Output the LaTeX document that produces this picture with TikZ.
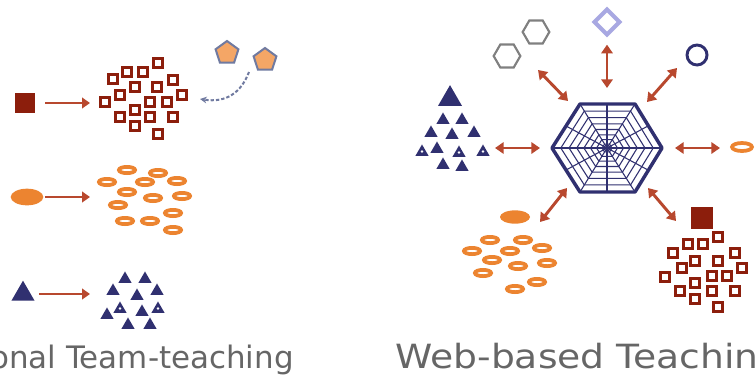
\documentclass[tikz,border=0pt]{standalone}
\usepackage{fontspec}
\newfontfamily\capfont{DejaVu Sans}
\usepackage{xcolor}
\usepackage{tikz}
\usetikzlibrary{shapes.geometric}
\usetikzlibrary{arrows.meta}

\definecolor{navy}{RGB}{48,48,112}
\definecolor{brick}{RGB}{140,30,12}
\definecolor{tang}{RGB}{236,132,48}
\definecolor{rust}{RGB}{184,72,46}
\definecolor{slate}{RGB}{128,128,128}
\definecolor{lilac}{RGB}{168,168,226}
\definecolor{peach}{RGB}{244,166,102}
\definecolor{steel}{RGB}{112,122,160}
\definecolor{capgray}{RGB}{102,102,102}

\tikzset{
  hsq/.style={rectangle, draw=brick, line width=2.4pt, minimum width=6.8pt, minimum height=6.2pt, inner sep=0pt},
  fsq/.style={rectangle, fill=brick, inner sep=0pt},
  ring/.style={ellipse, draw=tang, line width=2.8pt, minimum width=12.2pt, minimum height=4.7pt, inner sep=0pt},
  blob/.style={ellipse, fill=tang, inner sep=0pt},
  tri/.style={regular polygon, regular polygon sides=3, fill=navy, minimum size=11.3pt, inner sep=0pt},
  tridot/.style={tri, path picture={\fill[white] (path picture bounding box.center) ++(0,-1pt) circle (1pt);}},
  hexa/.style={regular polygon, regular polygon sides=6, draw=slate, line width=1.6pt, minimum size=20pt, inner sep=0pt},
  penta/.style={regular polygon, regular polygon sides=5, draw=steel, fill=peach, line width=1.5pt, minimum size=18pt, inner sep=0pt},
  arr/.style={draw=rust, line width=1.8pt, -{Triangle[length=6pt,width=8pt]}},
  darr/.style={draw=rust, line width=2.2pt, {Triangle[length=6.5pt,width=8.5pt]}-{Triangle[length=6.5pt,width=8.5pt]}},
  webline/.style={draw=navy, line width=0.8pt},
  caption/.style={text=capgray, inner sep=0pt},
}

\begin{document}
\begin{tikzpicture}[x=0.75pt, y=-0.75pt]
	\fill[white] (0,0) rectangle (755,379);
	\useasboundingbox (0,0) rectangle (755,379);

	% Left: one to many
	\node[fsq, minimum size=15pt] (redsq) at (25,103) {};
	\node[blob, minimum width=24.5pt, minimum height=12.5pt] (blobl) at (27,197) {};
	\node[tri, minimum size=20pt] (tril) at (23,294) {};
	\coordinate (ta) at (90,103);
	\coordinate (tb) at (90,197);
	\coordinate (tc) at (90,294);

	\foreach \p [count=\i] in {(158,63),(127,72),(143,72),(113,79),(173,80),(135,87),(157,87),(120,95),(182,95),(105,102),(150,102),(167,102),(135,110),(120,117),(150,117),(173,117),(135,126),(158,134)}
		\node[hsq] (sqa\i) at \p {};
	\foreach \p [count=\i] in {(127,170),(158,173),(107,182),(145,182),(177,181),(127,192),(153,198),(182,196),(118,205),(173,213),(125,221),(150,221),(173,230)}
		\node[ring] (rga\i) at \p {};
	\foreach \p [count=\i] in {(125,279),(145,279),(113,291),(137,296),(157,291),(142,312),(107,315),(128,325),(150,325)}
		\node[tri] (tra\i) at \p {};
	\node[tridot] (tra10) at (120,309) {};
	\node[tridot] (tra11) at (158,309) {};

	\node[penta] (pent1) at (227,53) {};
	\node[penta] (pent2) at (265,60) {};
	\coordinate (cs) at (249,72);
	\coordinate (ce) at (200,99);

	% Right: the web
	\coordinate (web) at (607,148);
	\draw[navy, line width=2.6pt, line join=round] (web) ++(55,0) -- ++(-27,44) -- ++(-55,0) -- ++(-28,-44) -- ++(28,-44) -- ++(55,0) -- cycle;
	\foreach \s in {0.84,0.69,0.55,0.42,0.3,0.19,0.09}
		\draw[webline, shift={(607,148)}, scale=\s] (55,0) -- (28,44) -- (-27,44) -- (-55,0) -- (-27,-44) -- (28,-44) -- cycle;
	\foreach \q in {(55,0),(28,44),(-27,44),(-55,0),(-27,-44),(28,-44),(41,22),(0,44),(-41,22),(-41,-22),(0,-44),(41,-22)}
		\draw[webline, shift={(607,148)}] (0,0) -- \q;

	\node[hexa] (hexa1) at (507,56) {};
	\node[hexa] (hexa2) at (536,32) {};
	\node[diamond, draw=lilac, line width=3pt, minimum width=20pt, minimum height=20pt, inner sep=0pt] (dia) at (607,22) {};
	\node[circle, draw=navy, line width=2.2pt, minimum size=15pt, inner sep=0pt] (ball) at (697,55) {};
	\node[ring, minimum width=15pt, minimum height=6pt] (rge) at (742,147) {};
	\node[blob, minimum width=22.5pt, minimum height=10pt] (blobr) at (515,217) {};
	\node[fsq, minimum size=16.5pt] (redsqr) at (702,218) {};
	\node[tri, minimum size=20.8pt] (trib) at (450,99) {};

	\foreach \p [count=\i] in {(443,120),(462,120),(431,133),(452,135),(474,133),(437,149),(443,165),(462,167)}
		\node[tri] (trb\i) at \p {};
	\node[tridot] (trb9) at (422,152) {};
	\node[tridot] (trb10) at (459,153) {};
	\node[tridot] (trb11) at (483,152) {};
	\foreach \p [count=\i] in {(490,240),(523,240),(472,251),(510,251),(542,248),(492,260),(518,266),(547,263),(483,273),(537,282),(515,289)}
		\node[ring] (rgb\i) at \p {};
	\foreach \p [count=\i] in {(718,237),(688,244),(703,244),(673,253),(735,253),(695,261),(718,261),(682,268),(742,268),(665,277),(712,276),(727,276),(695,283),(680,291),(712,291),(735,291),(695,299),(718,307)}
		\node[hsq] (sqb\i) at \p {};

	\coordinate (nw1) at (538,70);  \coordinate (nw2) at (568,101);
	\coordinate (ne1) at (677,68);  \coordinate (ne2) at (647,102);
	\coordinate (w1) at (495,148);  \coordinate (w2) at (540,148);
	\coordinate (e1) at (720,148);  \coordinate (e2) at (675,148);
	\coordinate (sw1) at (540,222); \coordinate (sw2) at (567,188);
	\coordinate (se1) at (676,221); \coordinate (se2) at (648,188);

	% Draw arrows
	\draw[arr, shorten <=7.5pt] (redsq) -- (ta);
	\draw[arr, shorten <=1pt] (blobl) -- (tb);
	\draw[arr, shorten <=6pt] (tril) -- (tc);
	\draw[steel, line width=1.5pt, dash pattern=on 2.5pt off 1.5pt, -{Stealth[length=5pt,width=5pt]}] (cs) .. controls (241,93) and (226,103) .. (ce);

	\draw[darr, shorten <=5.5pt, shorten >=45pt] (dia) -- (web);
	\draw[darr] (nw1) -- (nw2);
	\draw[darr] (ne1) -- (ne2);
	\draw[darr] (w1) -- (w2);
	\draw[darr] (e1) -- (e2);
	\draw[darr] (sw1) -- (sw2);
	\draw[darr] (se1) -- (se2);

	% Labels
	\node[caption, anchor=base east, font=\capfont\fontsize{23.2pt}{27pt}\selectfont] (capl) at (294,368) {onal Team-teaching};
	\node[caption, anchor=base west, font=\capfont\fontsize{25pt}{29pt}\selectfont] (capr) at (395,368) {\scalebox{1.13}[1]{Web-based Teachin}};
\end{tikzpicture}
\end{document}
